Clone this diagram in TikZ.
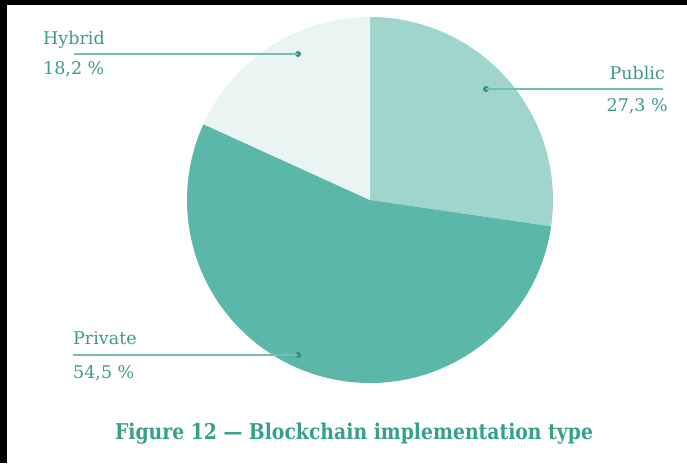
\documentclass[tikz,border=0pt]{standalone}
\usepackage{fontspec}
\setmainfont{DejaVu Serif}
\newfontfamily\condfont{DejaVu Serif Condensed}
\definecolor{pubc}{HTML}{9FD5CD}
\definecolor{privc}{HTML}{5BB7A9}
\definecolor{hybc}{HTML}{EAF5F3}
\definecolor{txtc}{HTML}{3F9A8B}
\definecolor{titc}{HTML}{36A08B}
\definecolor{linec}{HTML}{72C0B3}
\definecolor{dotc}{HTML}{3A8C7F}
\tikzset{
  lbl/.style={inner sep=0pt, text=txtc, font=\fontsize{17.5}{17.5}\selectfont},
  leader/.style={draw=linec, line width=1.5pt},
  ldot/.style={circle, fill=dotc, inner sep=0pt, minimum size=6pt}
}
\begin{document}
\begin{tikzpicture}[x=1pt,y=1pt]
\useasboundingbox (0,0) rectangle (687,463);
\fill[white] (0,0) rectangle (687,463);
\fill[black] (0,0) rectangle (7,463);
\fill[black] (0,458) rectangle (687,463);
% pie
\coordinate (c) at (370,263);
\fill[pubc] (c) -- ++(90:183pt) arc[start angle=90, end angle=-8.28, radius=183pt] -- cycle;
\fill[privc] (c) -- ++(-8.28:183pt) arc[start angle=-8.28, end angle=-204.48, radius=183pt] -- cycle;
\fill[hybc] (c) -- ++(155.52:183pt) arc[start angle=155.52, end angle=90, radius=183pt] -- cycle;
% Hybrid
\node[lbl, anchor=base west] (hyb) at (43,418) {Hybrid};
\node[lbl, anchor=base west] (hybv) at (43,388) {18,2 \%};
\coordinate (hybs) at (74,409);
\node[ldot] (hybd) at (298,409) {};
\draw[leader] (hybs) -- (hybd.center);
% Public
\node[lbl, anchor=base east] (pub) at (665,383) {Public};
\node[lbl, anchor=base east] (pubv) at (668,351) {27,3 \%};
\coordinate (pubs) at (663,374);
\node[ldot] (pubd) at (486,374) {};
\draw[leader] (pubs) -- (pubd.center);
% Private
\node[lbl, anchor=base west] (priv) at (73,118) {Private};
\node[lbl, anchor=base west] (privv) at (73,85) {54,5 \%};
\coordinate (privs) at (73,108);
\node[ldot] (privd) at (298,108) {};
\draw[leader] (privs) -- (privd.center);
% title
\node[inner sep=0pt, anchor=base, text=titc] (title) at (354,24)
  {\resizebox{478pt}{16.5pt}{\condfont\bfseries Figure 12 — Blockchain implementation type}};
\end{tikzpicture}
\end{document}
